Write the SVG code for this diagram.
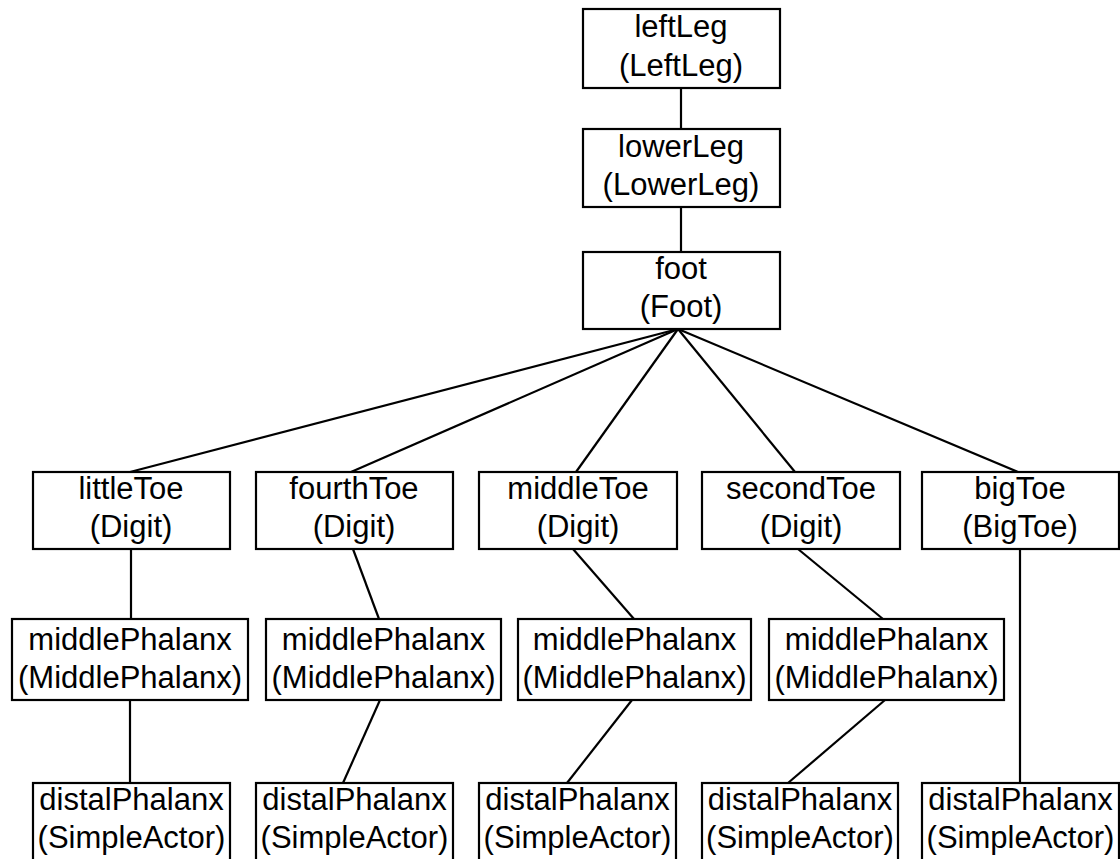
<svg xmlns="http://www.w3.org/2000/svg" width="1120" height="859" viewBox="0 0 1120 859">
  <style>
    .box { fill: #ffffff; stroke: #000000; stroke-width: 2.2; }
    .edge { stroke: #000000; stroke-width: 2.2; fill: none; }
    text { font-family: "Liberation Sans", Arial, sans-serif; font-size: 31px; fill: #000000; text-anchor: middle; }
  </style>
  <rect width="1120" height="859" fill="#ffffff"/>

  <!-- connectors -->
  <g id="connectors">
    <line class="edge" x1="681" y1="88" x2="681" y2="129"/>
    <line class="edge" x1="681" y1="207" x2="681" y2="252"/>
    <line class="edge" x1="678" y1="329" x2="130" y2="472"/>
    <line class="edge" x1="678" y1="329" x2="351" y2="472"/>
    <line class="edge" x1="678" y1="329" x2="576" y2="472"/>
    <line class="edge" x1="678" y1="329" x2="795" y2="472"/>
    <line class="edge" x1="678" y1="329" x2="1018" y2="472"/>
    <line class="edge" x1="131" y1="549" x2="131" y2="619"/>
    <line class="edge" x1="130" y1="700" x2="130" y2="783"/>
    <line class="edge" x1="353" y1="549" x2="379" y2="619"/>
    <line class="edge" x1="380" y1="700" x2="343" y2="783"/>
    <line class="edge" x1="573" y1="549" x2="634" y2="619"/>
    <line class="edge" x1="632" y1="700" x2="567" y2="783"/>
    <line class="edge" x1="798" y1="549" x2="883" y2="619"/>
    <line class="edge" x1="885" y1="700" x2="788" y2="783"/>
    <line class="edge" x1="1020" y1="549" x2="1020" y2="783"/>
  </g>

  <!-- leg chain -->
  <g id="leftLeg">
    <rect class="box" x="583" y="9" width="197" height="79"/>
    <text x="681" y="37">leftLeg</text>
    <text x="681" y="76">(LeftLeg)</text>
  </g>
  <g id="lowerLeg">
    <rect class="box" x="583" y="129" width="197" height="78"/>
    <text x="681" y="157">lowerLeg</text>
    <text x="681" y="195">(LowerLeg)</text>
  </g>
  <g id="foot">
    <rect class="box" x="583" y="252" width="197" height="77"/>
    <text x="681" y="279">foot</text>
    <text x="681" y="317">(Foot)</text>
  </g>

  <!-- toes -->
  <g id="littleToe">
    <rect class="box" x="33" y="472" width="197" height="77"/>
    <text x="131" y="499">littleToe</text>
    <text x="131" y="537">(Digit)</text>
  </g>
  <g id="fourthToe">
    <rect class="box" x="256" y="472" width="197" height="77"/>
    <text x="354" y="499">fourthToe</text>
    <text x="354" y="537">(Digit)</text>
  </g>
  <g id="middleToe">
    <rect class="box" x="479" y="472" width="198" height="77"/>
    <text x="578" y="499">middleToe</text>
    <text x="578" y="537">(Digit)</text>
  </g>
  <g id="secondToe">
    <rect class="box" x="702" y="472" width="198" height="77"/>
    <text x="801" y="499">secondToe</text>
    <text x="801" y="537">(Digit)</text>
  </g>
  <g id="bigToe">
    <rect class="box" x="922" y="472" width="197" height="77"/>
    <text x="1020" y="499">bigToe</text>
    <text x="1020" y="537">(BigToe)</text>
  </g>

  <!-- middle phalanges -->
  <g id="middlePhalanx1">
    <rect class="box" x="12" y="619" width="236" height="81"/>
    <text x="130" y="650">middlePhalanx</text>
    <text x="130" y="688">(MiddlePhalanx)</text>
  </g>
  <g id="middlePhalanx2">
    <rect class="box" x="266" y="619" width="235" height="81"/>
    <text x="383.5" y="650">middlePhalanx</text>
    <text x="383.5" y="688">(MiddlePhalanx)</text>
  </g>
  <g id="middlePhalanx3">
    <rect class="box" x="518" y="619" width="233" height="81"/>
    <text x="634.5" y="650">middlePhalanx</text>
    <text x="634.5" y="688">(MiddlePhalanx)</text>
  </g>
  <g id="middlePhalanx4">
    <rect class="box" x="769" y="619" width="235" height="81"/>
    <text x="886.5" y="650">middlePhalanx</text>
    <text x="886.5" y="688">(MiddlePhalanx)</text>
  </g>

  <!-- distal phalanges -->
  <g id="distalPhalanx1">
    <rect class="box" x="33" y="783" width="197" height="80"/>
    <text x="131.5" y="810">distalPhalanx</text>
    <text x="131.5" y="848">(SimpleActor)</text>
  </g>
  <g id="distalPhalanx2">
    <rect class="box" x="256" y="783" width="197" height="80"/>
    <text x="354.5" y="810">distalPhalanx</text>
    <text x="354.5" y="848">(SimpleActor)</text>
  </g>
  <g id="distalPhalanx3">
    <rect class="box" x="479" y="783" width="197" height="80"/>
    <text x="577.5" y="810">distalPhalanx</text>
    <text x="577.5" y="848">(SimpleActor)</text>
  </g>
  <g id="distalPhalanx4">
    <rect class="box" x="702" y="783" width="196" height="80"/>
    <text x="800" y="810">distalPhalanx</text>
    <text x="800" y="848">(SimpleActor)</text>
  </g>
  <g id="distalPhalanx5">
    <rect class="box" x="922" y="783" width="197" height="80"/>
    <text x="1020.5" y="810">distalPhalanx</text>
    <text x="1020.5" y="848">(SimpleActor)</text>
  </g>
</svg>
